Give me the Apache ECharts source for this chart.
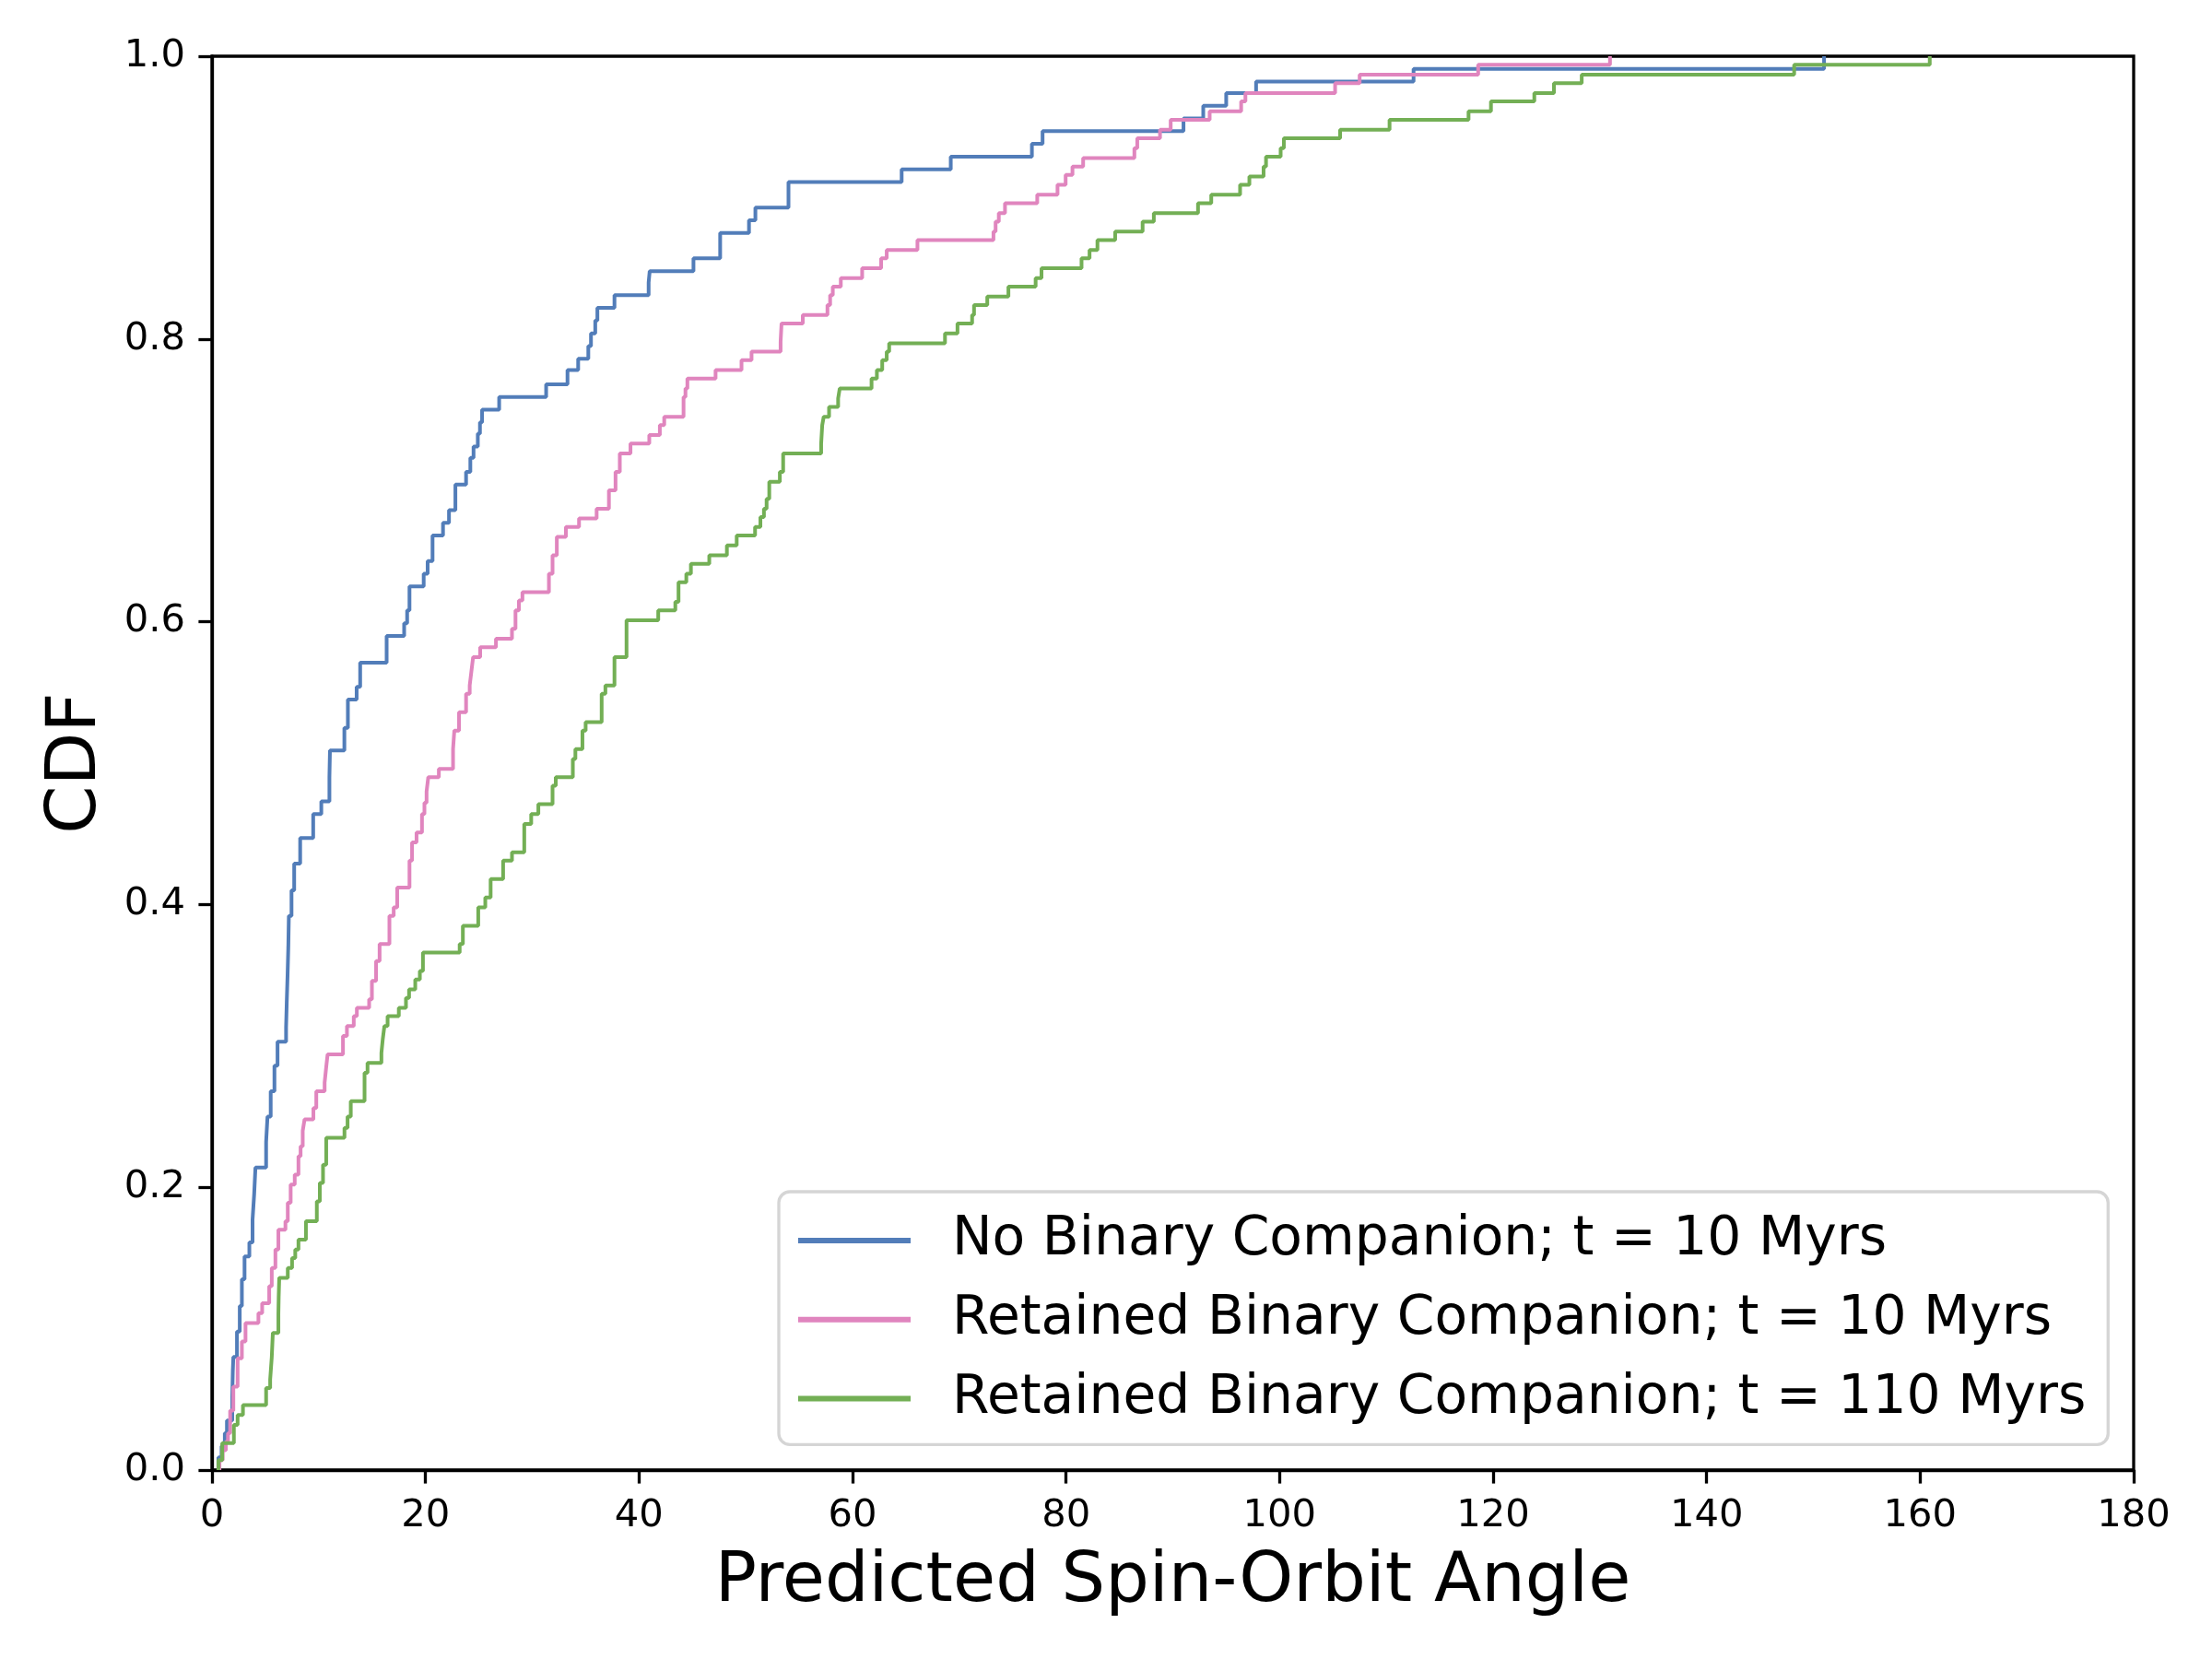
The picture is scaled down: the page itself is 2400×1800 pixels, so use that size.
<!DOCTYPE html>
<html>
<head>
<meta charset="utf-8">
<script src="https://cdn.jsdelivr.net/npm/echarts@6/dist/echarts.min.js"></script>
<style>
  html, body { margin: 0; padding: 0; background: #fff; }
  #main { width: 2400px; height: 1800px; }
</style>
</head>
<body>
<div id="main"></div>
<script>
// step points: angle where the CDF jumps, and the value it jumps to
var blueAngle = [0.6, 0.6, 0.9, 1.2, 1.4, 1.9, 1.95, 2.0, 2.34, 2.6, 2.8, 3.05, 3.5, 3.8, 3.95, 4.07,
  5.07, 5.2, 5.5, 5.85, 6.14, 6.94, 7.0, 7.08, 7.15, 7.2, 7.45, 7.7, 8.26, 9.48, 10.24, 11.0, 11.05,
  12.4, 12.73, 13.55, 13.88, 16.36, 18.0, 18.28, 18.5, 19.83, 20.2, 20.66, 21.64, 22.2, 22.8, 23.8,
  24.2, 24.5, 24.9, 25.1, 25.3, 26.9, 31.3, 33.3, 34.3, 35.25, 35.5, 35.9, 36.1, 37.7, 40.9, 41.0,
  45.1, 47.6, 50.3, 50.9, 54.0, 64.6, 69.2, 76.8, 77.8, 91.0, 92.85, 95.0, 97.8, 112.55, 151.0];
var blueCdf = [0.0, 0.009, 0.017, 0.026, 0.035, 0.052, 0.07, 0.08, 0.098, 0.116, 0.135, 0.151, 0.161, 0.177, 0.195, 0.214,
  0.232, 0.25, 0.268, 0.286, 0.303, 0.313, 0.33, 0.35, 0.37, 0.392, 0.41, 0.429, 0.447, 0.464, 0.473, 0.49, 0.509,
  0.525, 0.545, 0.554, 0.571, 0.59, 0.599, 0.608, 0.625, 0.634, 0.643, 0.661, 0.67, 0.679, 0.697, 0.706,
  0.716, 0.724, 0.733, 0.741, 0.75, 0.759, 0.768, 0.778, 0.786, 0.795, 0.804, 0.813, 0.822, 0.831, 0.84, 0.848,
  0.857, 0.875, 0.884, 0.893, 0.911, 0.92, 0.929, 0.938, 0.947, 0.956, 0.965, 0.974, 0.982, 0.991, 1.0];

var pinkAngle = [0.7, 0.7, 1.0, 1.3, 1.5, 1.7, 2.0, 2.4, 2.8, 3.14, 4.35, 4.7, 5.36, 5.6, 5.94, 6.22,
  6.88, 7.1, 7.37, 7.75, 8.1, 8.3, 8.5, 8.67, 9.5, 9.77, 10.55, 10.7, 10.83, 12.27, 12.64, 13.28, 13.57,
  14.72, 14.98, 15.37, 15.7, 16.62, 17.02, 17.35, 18.5, 18.74, 19.16, 19.67, 19.9, 20.1, 20.26, 21.25,
  22.58, 22.7, 23.14, 23.8, 24.14, 24.3, 24.46, 25.12, 26.6, 28.1, 28.43, 28.75, 29.08, 31.56, 31.9,
  32.3, 33.15, 34.38, 36.03, 37.18, 37.8, 38.2, 39.2, 40.96, 41.95, 42.36, 44.17, 44.35, 44.53, 47.17,
  49.6, 50.54, 53.26, 53.35, 55.34, 57.65, 57.9, 58.15, 58.9, 60.9, 62.68, 63.2, 66.08, 73.2, 73.4,
  73.7, 74.28, 77.3, 79.2, 79.96, 80.6, 81.6, 86.4, 86.67, 88.8, 89.8, 93.45, 96.4, 96.8, 105.2,
  107.5, 118.6, 130.95];
var pinkCdf = [0.0, 0.007, 0.014, 0.02, 0.026, 0.042, 0.059, 0.079, 0.091, 0.104, 0.111, 0.118, 0.13, 0.143, 0.156, 0.17,
  0.176, 0.189, 0.202, 0.209, 0.222, 0.229, 0.24, 0.248, 0.256, 0.268, 0.274, 0.285, 0.294, 0.307, 0.314, 0.321, 0.327,
  0.333, 0.346, 0.36, 0.372, 0.392, 0.398, 0.412, 0.431, 0.444, 0.451, 0.464, 0.472, 0.48, 0.49, 0.496,
  0.51, 0.523, 0.536, 0.549, 0.555, 0.565, 0.575, 0.582, 0.588, 0.595, 0.608, 0.615, 0.621, 0.634, 0.647,
  0.66, 0.667, 0.673, 0.68, 0.693, 0.706, 0.719, 0.726, 0.732, 0.739, 0.745, 0.759, 0.765, 0.772, 0.778,
  0.785, 0.791, 0.798, 0.811, 0.817, 0.824, 0.831, 0.837, 0.843, 0.85, 0.857, 0.863, 0.87, 0.876, 0.883,
  0.889, 0.896, 0.902, 0.909, 0.916, 0.922, 0.928, 0.935, 0.942, 0.948, 0.955, 0.961, 0.968, 0.974, 0.981,
  0.987, 0.994, 1.0];

var greenAngle = [0.6, 0.6, 0.96, 2.05, 2.4, 2.9, 5.07, 5.45, 5.6, 5.7, 6.22, 6.25, 6.3, 7.1, 7.5, 7.8,
  8.1, 8.8, 9.82, 10.1, 10.4, 10.7, 12.41, 12.7, 13.0, 14.29, 14.57, 15.87, 16.0, 16.15, 16.45, 17.5,
  18.17, 18.46, 19.04, 19.47, 19.76, 23.2, 23.5, 24.94, 25.6, 26.1, 27.27, 28.1, 29.25, 29.9, 30.57,
  31.9, 32.2, 33.8, 34.04, 34.7, 35.0, 36.5, 36.85, 37.7, 38.83, 41.8, 43.4, 43.7, 44.43, 44.86, 46.58,
  48.23, 49.15, 50.87, 51.37, 51.7, 51.95, 52.2, 53.19, 53.5, 57.06, 57.16, 57.3, 57.8, 58.65, 58.8,
  61.78, 62.28, 62.78, 63.2, 63.43, 68.66, 69.83, 71.2, 71.38, 72.62, 74.6, 77.15, 77.7, 81.45, 82.2,
  82.94, 84.6, 87.17, 88.22, 92.36, 93.6, 96.3, 97.17, 98.5, 98.73, 100.1, 100.4, 105.67, 110.3,
  117.7, 119.8, 123.86, 125.7, 128.3, 148.2, 160.9];
var greenCdf = [0.0, 0.007, 0.019, 0.032, 0.039, 0.046, 0.058, 0.064, 0.08, 0.097, 0.11, 0.123, 0.136, 0.143, 0.15, 0.156,
  0.163, 0.176, 0.19, 0.203, 0.216, 0.235, 0.242, 0.25, 0.261, 0.281, 0.288, 0.295, 0.305, 0.314, 0.321, 0.327,
  0.334, 0.34, 0.347, 0.353, 0.366, 0.372, 0.385, 0.398, 0.405, 0.418, 0.431, 0.437, 0.457, 0.464, 0.471,
  0.484, 0.49, 0.503, 0.51, 0.523, 0.529, 0.549, 0.555, 0.575, 0.601, 0.608, 0.614, 0.628, 0.634, 0.641, 0.647,
  0.654, 0.661, 0.667, 0.674, 0.68, 0.687, 0.699, 0.706, 0.719, 0.726, 0.739, 0.745, 0.752, 0.758, 0.765,
  0.772, 0.778, 0.785, 0.791, 0.797, 0.804, 0.811, 0.817, 0.824, 0.83, 0.837, 0.843, 0.85, 0.857, 0.863,
  0.87, 0.876, 0.883, 0.889, 0.896, 0.902, 0.909, 0.915, 0.922, 0.929, 0.935, 0.942, 0.948, 0.955,
  0.961, 0.968, 0.974, 0.981, 0.987, 0.994, 1.0];

var seriesNames = ['No Binary Companion; t = 10 Myrs',
                   'Retained Binary Companion; t = 10 Myrs',
                   'Retained Binary Companion; t = 110 Myrs'];
var seriesColors = ['#527db9', '#e085be', '#73af55'];
var xTicks = [0, 20, 40, 60, 80, 100, 120, 140, 160, 180];
var yTicks = ['0.0', '0.2', '0.4', '0.6', '0.8', '1.0'];

function pairs(xs, ys) {
  var out = [];
  for (var i = 0; i < xs.length; i++) out.push([xs[i], ys[i]]);
  return out;
}

var font = 'DejaVu Sans';
var chart = echarts.init(document.getElementById('main'));

var curves = [pairs(blueAngle, blueCdf), pairs(pinkAngle, pinkCdf), pairs(greenAngle, greenCdf)];
var series = curves.map(function (d, i) {
  return {
    name: seriesNames[i],
    type: 'line',
    step: 'end',
    data: d,
    symbol: 'none',
    lineStyle: { width: 4, color: seriesColors[i] },
    itemStyle: { color: seriesColors[i] }
  };
});

chart.setOption({
  animation: false,
  backgroundColor: '#fff',
  textStyle: { fontFamily: font },
  grid: {
    left: 230, right: 85, top: 61, bottom: 205,
    show: true, borderColor: '#000', borderWidth: 3.3, backgroundColor: 'transparent'
  },
  xAxis: {
    type: 'value',
    min: xTicks[0], max: xTicks[xTicks.length - 1], interval: xTicks[1] - xTicks[0],
    name: 'Predicted Spin-Orbit Angle',
    nameLocation: 'middle',
    nameGap: 85,
    nameTextStyle: { fontSize: 75, color: '#000', fontFamily: font },
    axisLine: { lineStyle: { color: '#000', width: 3.3 } },
    axisTick: { length: 14.6, lineStyle: { color: '#000', width: 3.3 } },
    axisLabel: { fontSize: 41.7, color: '#000', margin: 29, fontFamily: font },
    splitLine: { show: false }
  },
  yAxis: {
    type: 'value',
    min: 0, max: 1, interval: 0.2,
    name: 'CDF',
    nameLocation: 'middle',
    nameGap: 109,
    nameTextStyle: { fontSize: 75, color: '#000', fontFamily: font },
    axisLine: { show: true, lineStyle: { color: '#000', width: 3.3 } },
    axisTick: { show: true, length: 14.6, lineStyle: { color: '#000', width: 3.3 } },
    axisLabel: {
      fontSize: 41.7, color: '#000', margin: 29, fontFamily: font,
      formatter: function (v) { return yTicks[Math.round(v / 0.2)]; }
    },
    splitLine: { show: false }
  },
  legend: {
    orient: 'vertical',
    left: 845, top: 1293,
    padding: [24, 24, 21, 21],
    itemGap: 27.7,
    itemWidth: 122, itemHeight: 6,
    icon: 'rect',
    backgroundColor: 'rgba(255,255,255,0.8)',
    borderColor: '#d5d5d5', borderWidth: 3.3, borderRadius: 12,
    textStyle: { fontSize: 58.3, color: '#000', fontFamily: font, padding: [0, 0, 0, 40] },
    data: seriesNames
  },
  series: series
});
</script>
</body>
</html>
